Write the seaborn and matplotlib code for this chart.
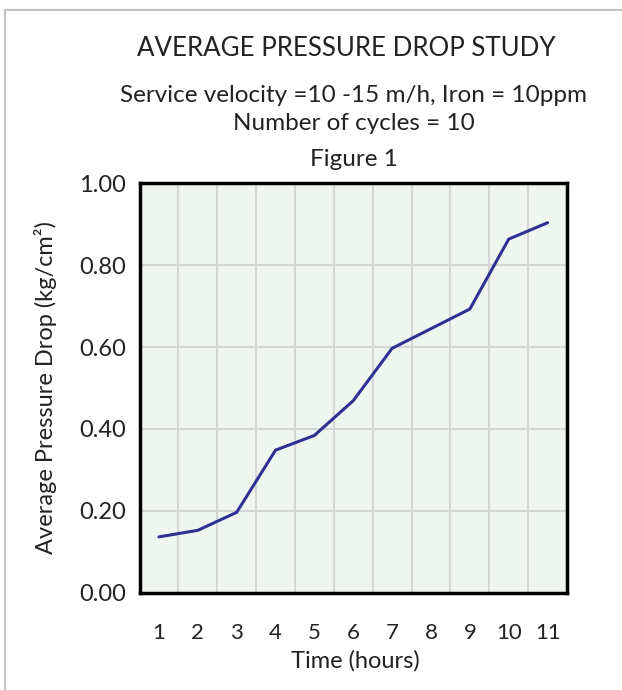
import matplotlib
matplotlib.use("Agg")
import matplotlib.pyplot as plt
import seaborn as sns
import pandas as pd
from matplotlib.lines import Line2D

hours = [1, 2, 3, 4, 5, 6, 7, 9, 10, 11]
pressure_drop = [0.136, 0.152, 0.196, 0.348, 0.384, 0.469, 0.597, 0.693, 0.864, 0.904]
x_ticks = list(range(1, 12))
y_ticks = [0.0, 0.2, 0.4, 0.6, 0.8, 1.0]
y_tick_labels = ["0.00", "0.20", "0.40", "0.60", "0.80", "1.00"]

sns.set_style("white")
plt.rcParams["font.family"] = ["Lato", "DejaVu Sans"]
plt.rcParams["font.weight"] = "normal"

df = pd.DataFrame({"hours": hours, "pressure": pressure_drop})

fig = plt.figure(figsize=(6.22, 6.90), dpi=100)
ax = fig.add_axes([0.2243, 0.1413, 0.6873, 0.5928])
ax.set_facecolor("#eff6f0")

sns.lineplot(data=df, x="hours", y="pressure", ax=ax, color="#2e3192", linewidth=2.2)

ax.set_xlim(0.5, 11.5)
ax.set_ylim(0, 1.0)
ax.set_xticks(x_ticks)
ax.set_xticklabels([str(t) for t in x_ticks], fontsize=16, color="#222222")
ax.set_yticks(y_ticks)
ax.set_yticklabels(y_tick_labels, fontsize=17, color="#222222")
ax.set_xticks([x + 0.5 for x in x_ticks[:-1]], minor=True)
ax.tick_params(axis="both", which="both", length=0)
ax.tick_params(axis="y", pad=10)
ax.tick_params(axis="x", pad=22)

ax.grid(False)
ax.grid(True, which="minor", axis="x", color="#d6d6d6", linewidth=1.5)
ax.grid(True, which="major", axis="y", color="#d6d6d6", linewidth=1.5)
ax.set_axisbelow(True)

for s in ax.spines.values():
    s.set_visible(True)
    s.set_color("black")
    s.set_linewidth(2.5)

ax.set_xlabel("Time (hours)", fontsize=17, color="#222222")
ax.set_ylabel("Average Pressure Drop (kg/cm²)", fontsize=17, color="#222222")
ax.xaxis.set_label_coords(0.504, -0.1675)
ax.yaxis.set_label_coords(-0.221, 0.5)
ax.xaxis.label.set_va("center")
ax.yaxis.label.set_va("center")

fig.text(346 / 622, 1 - 48 / 690, "AVERAGE PRESSURE DROP STUDY", ha="center", va="center",
         fontsize=18.6, color="#222222")
fig.text(354 / 622, 1 - 96 / 690, "Service velocity =10 -15 m/h, Iron = 10ppm", ha="center",
         va="center", fontsize=17.5, color="#222222")
fig.text(354 / 622, 1 - 124 / 690, "Number of cycles = 10", ha="center", va="center",
         fontsize=17.5, color="#222222")
fig.text(354 / 622, 1 - 160 / 690, "Figure 1", ha="center", va="center",
         fontsize=17.5, color="#222222")

fig.add_artist(Line2D([4.5 / 622, 4.5 / 622], [0, 1 - 10 / 690], transform=fig.transFigure,
                      color="#c4c4c4", linewidth=1.5))
fig.add_artist(Line2D([4.5 / 622, 1], [1 - 10 / 690, 1 - 10 / 690], transform=fig.transFigure,
                      color="#c4c4c4", linewidth=1.5))

fig.savefig("out.png", dpi=100)
